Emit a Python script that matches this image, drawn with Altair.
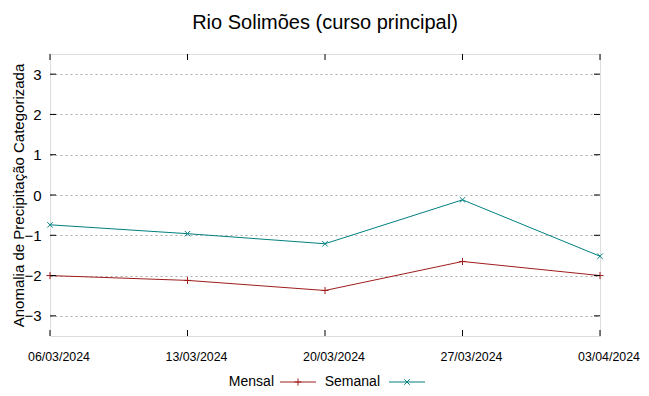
import altair as alt
import pandas as pd

dates = ["06/03/2024", "13/03/2024", "20/03/2024", "27/03/2024", "03/04/2024"]
mensal = [-2.00, -2.12, -2.37, -1.65, -2.00]
semanal = [-0.74, -0.96, -1.21, -0.12, -1.52]
y_ticks = [-3, -2, -1, 0, 1, 2, 3]

FONT = "Liberation Sans"
RED = "#a01c1c"
TEAL = "#008080"
PLUS = "M-1,0L1,0M0,-1L0,1"
XSHAPE = "M-1,-1L1,1M-1,1L1,-1"
W, H = 550, 282

df = pd.DataFrame({
    "date": dates * 2,
    "value": mensal + semanal,
    "serie": ["Mensal"] * len(dates) + ["Semanal"] * len(dates),
})
ticks_df = pd.DataFrame({"t": y_ticks})
dates_df = pd.DataFrame({"date": dates})

xs = alt.Scale(type="point", domain=dates, padding=0)
ys = alt.Scale(domain=[-3.5, 3.5], nice=False, zero=False)

x_enc = alt.X("date:N", scale=xs, sort=dates,
              axis=alt.Axis(title=None, ticks=False, domain=False, labelAngle=0,
                            labelFont=FONT, labelFontSize=12.4, labelColor="#000",
                            labelPadding=14, labelOffset=8.5, labelOverlap=False,
                            labelBound=False, labelFlush=False))
y_enc = alt.Y("value:Q", scale=ys,
              axis=alt.Axis(title="Anomalia de Precipitação Categorizada", values=y_ticks,
                            ticks=False, domain=False, grid=True,
                            gridDash=[2, 3], gridColor="#aaa", gridWidth=1,
                            labelFont=FONT, labelFontSize=15, labelColor="#000",
                            labelPadding=9, titleFont=FONT, titleFontSize=15,
                            titleFontWeight="normal", titleColor="#000",
                            titleLimit=400, titleX=-32, titleY=H / 2, titleAngle=-90,
                            titleAlign="center", titleBaseline="middle"))

base = alt.Chart(df)

lines = base.mark_line(strokeWidth=1).encode(
    x=x_enc, y=y_enc,
    color=alt.Color("serie:N", scale=alt.Scale(domain=["Mensal", "Semanal"], range=[RED, TEAL]), legend=None),
)
pts_m = base.transform_filter(alt.datum.serie == "Mensal").mark_point(
    shape=PLUS, size=50, filled=False, strokeWidth=1, color=RED, opacity=1
).encode(x=alt.X("date:N", scale=xs), y=alt.Y("value:Q", scale=ys))
pts_s = base.transform_filter(alt.datum.serie == "Semanal").mark_point(
    shape=XSHAPE, size=30, filled=False, strokeWidth=1, color=TEAL, opacity=1
).encode(x=alt.X("date:N", scale=xs), y=alt.Y("value:Q", scale=ys))

yt = alt.Chart(ticks_df)
ytick_l = yt.mark_rule(color="#000", strokeWidth=1).encode(
    y=alt.Y("t:Q", scale=ys), x=alt.value(0), x2=alt.value(6))
ytick_r = yt.mark_rule(color="#000", strokeWidth=1).encode(
    y=alt.Y("t:Q", scale=ys), x=alt.value(W - 6), x2=alt.value(W))
xt = alt.Chart(dates_df)
xtick_b = xt.mark_rule(color="#000", strokeWidth=1).encode(
    x=alt.X("date:N", scale=xs), y=alt.value(H - 6), y2=alt.value(H))
xtick_t = xt.mark_rule(color="#000", strokeWidth=1).encode(
    x=alt.X("date:N", scale=xs), y=alt.value(0), y2=alt.value(6))

one = alt.Chart(pd.DataFrame({"k": [0]}))
LY = 328
leg = [
    one.mark_text(font=FONT, fontSize=14, align="right", baseline="middle", color="#000").encode(
        x=alt.value(224), y=alt.value(LY), text=alt.value("Mensal")),
    one.mark_rule(color=RED, strokeWidth=1).encode(x=alt.value(230), x2=alt.value(266), y=alt.value(LY)),
    one.mark_point(shape=PLUS, size=50, filled=False, strokeWidth=1, color=RED, opacity=1).encode(
        x=alt.value(248), y=alt.value(LY)),
    one.mark_text(font=FONT, fontSize=14, align="right", baseline="middle", color="#000").encode(
        x=alt.value(330), y=alt.value(LY), text=alt.value("Semanal")),
    one.mark_rule(color=TEAL, strokeWidth=1).encode(x=alt.value(339), x2=alt.value(375), y=alt.value(LY)),
    one.mark_point(shape=XSHAPE, size=30, filled=False, strokeWidth=1, color=TEAL, opacity=1).encode(
        x=alt.value(357), y=alt.value(LY)),
]

chart = alt.layer(lines, pts_m, pts_s, ytick_l, ytick_r, xtick_b, xtick_t, *leg).properties(
    width=W, height=H,
    title=alt.TitleParams("Rio Solimões (curso principal)", font=FONT, fontSize=20,
                          fontWeight="normal", color="#000", anchor="middle",
                          baseline="bottom", offset=1),
    autosize=alt.AutoSizeParams(type="none"),
    padding={"left": 42, "top": 46, "right": 41, "bottom": 52},
).configure_view(stroke="#555", strokeWidth=1).configure(background="white")

chart.save("out.html", embed_options={"renderer": "svg", "actions": False})
